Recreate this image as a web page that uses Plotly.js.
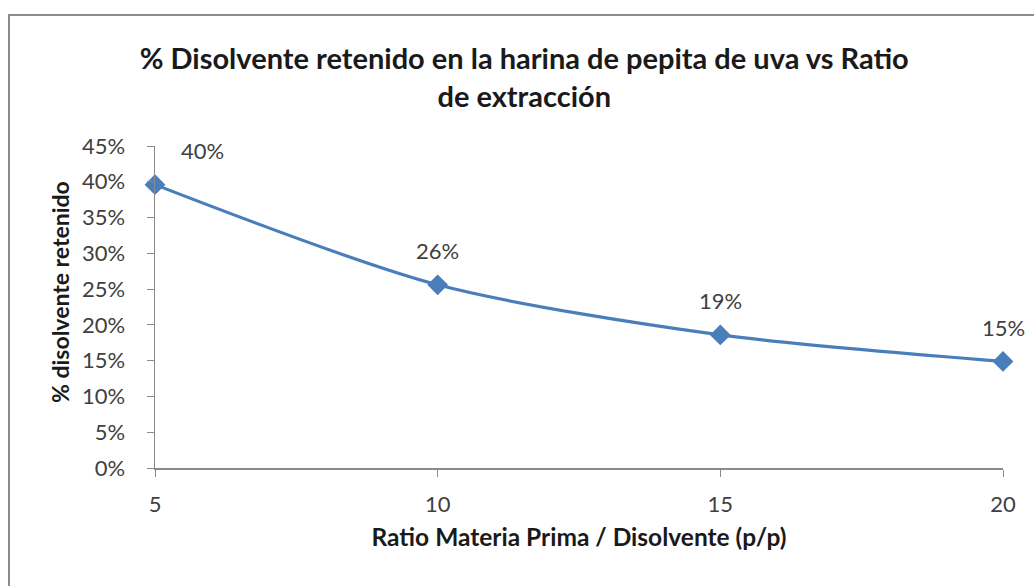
<!DOCTYPE html>
<html>
<head>
<meta charset="utf-8">
<script src="https://cdn.plot.ly/plotly-3.0.1.min.js"></script>
<style>
  html, body { margin: 0; padding: 0; background: #ffffff; }
  #chart { width: 1034px; height: 586px; }
</style>
</head>
<body>
<div id="chart"></div>
<script>
// Ratio materia prima / disolvente (p/p)
const ratios = [5, 10, 15, 20];
// Fraction of solvent retained in the grape-seed meal
const retained = [0.396, 0.256, 0.186, 0.149];
const yTickVals = [0, 0.05, 0.10, 0.15, 0.20, 0.25, 0.30, 0.35, 0.40, 0.45];
const yTickText = ['0%', '5%', '10%', '15%', '20%', '25%', '30%', '35%', '40%', '45%'];
const xTickVals = [5, 10, 15, 20];

const FONT = 'Lato, "Open Sans", sans-serif';
const BLUE = '#4a7ebb';

const trace = {
  x: ratios,
  y: retained,
  type: 'scatter',
  mode: 'lines+markers',
  line: { color: BLUE, width: 3.2, shape: 'spline', smoothing: 0.8 },
  marker: { symbol: 'diamond', size: 16, color: BLUE, line: { width: 0 } },
  hoverinfo: 'x+y',
  cliponaxis: false
};

// value labels above each point; the first one sits to the right of the axis
const labelShiftX = [47, 0, 0, 0];
const annotations = ratios.map((r, i) => ({
  x: r,
  y: retained[i],
  xref: 'x',
  yref: 'y',
  text: Math.round(retained[i] * 100) + '%',
  showarrow: false,
  xshift: labelShiftX[i],
  yshift: 34,
  font: { family: FONT, size: 22, color: '#404040' }
}));

// vertical axis title, placed slightly above the plot's middle
annotations.push({
  text: '% disolvente retenido',
  xref: 'paper', yref: 'paper',
  x: (60 - 155) / 848,
  y: (468 - 292) / 322,
  xanchor: 'center', yanchor: 'middle',
  textangle: -90,
  showarrow: false,
  font: { family: FONT, size: 23, color: '#1a1a1a', weight: 'bold' }
});

const layout = {
  width: 1034,
  height: 586,
  margin: { l: 155, r: 31, t: 146, b: 118 },
  paper_bgcolor: '#ffffff',
  plot_bgcolor: '#ffffff',
  showlegend: false,
  title: {
    text: '% Disolvente retenido en la harina de pepita de uva vs Ratio<br>de extracción',
    x: 0.507,
    xref: 'container',
    xanchor: 'center',
    y: 1 - 69 / 586,
    yref: 'container',
    yanchor: 'top',
    font: { family: FONT, size: 29, color: '#1a1a1a', weight: 'bold' }
  },
  xaxis: {
    range: [5, 20],
    tickvals: xTickVals,
    ticktext: xTickVals.map(String),
    showgrid: false,
    zeroline: false,
    showline: true,
    linecolor: '#8a8a8a',
    linewidth: 1.5,
    ticks: 'outside',
    ticklen: 7,
    tickcolor: '#8a8a8a',
    ticklabelstandoff: 9,
    tickfont: { family: FONT, size: 22, color: '#404040' },
    title: {
      text: 'Ratio Materia Prima / Disolvente (p/p)',
      standoff: 13,
      font: { family: FONT, size: 24.5, color: '#1a1a1a', weight: 'bold' }
    }
  },
  yaxis: {
    range: [0, 0.45],
    tickvals: yTickVals,
    ticktext: yTickText,
    showgrid: false,
    zeroline: false,
    showline: true,
    linecolor: '#8a8a8a',
    linewidth: 1.5,
    ticks: 'outside',
    ticklen: 7,
    tickcolor: '#8a8a8a',
    ticklabelstandoff: 17,
    tickfont: { family: FONT, size: 22, color: '#404040' }
  },
  shapes: [{
    // chart-area frame
    type: 'rect',
    xref: 'paper', yref: 'paper',
    x0: (9 - 155) / 848, x1: (1045 - 155) / 848,
    y0: (468 - 605) / 322, y1: (468 - 15) / 322,
    line: { color: '#8c8c8c', width: 2 },
    fillcolor: 'rgba(0,0,0,0)',
    layer: 'below'
  }],
  annotations: annotations
};

Plotly.newPlot('chart', [trace], layout, { displayModeBar: false, staticPlot: true });
</script>
</body>
</html>
